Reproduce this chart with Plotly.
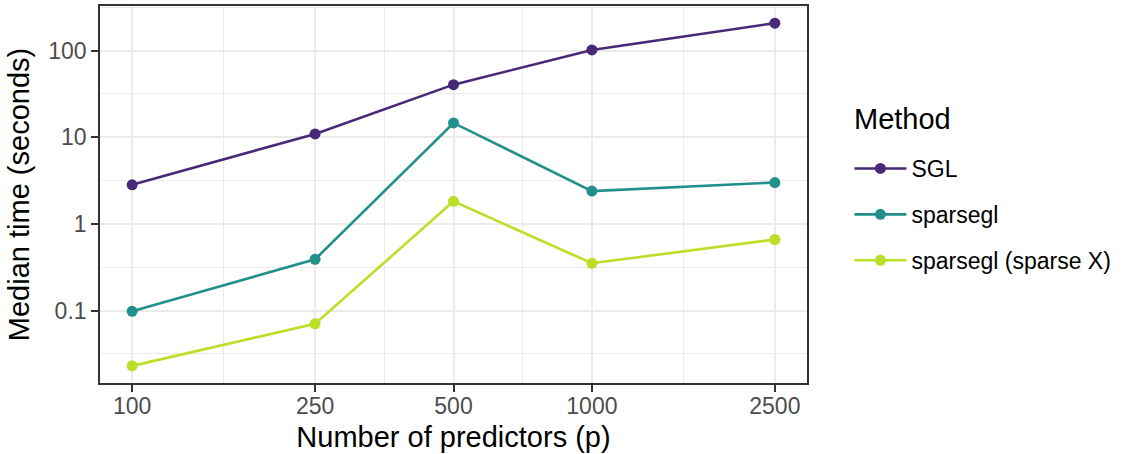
import numpy as np
import plotly.graph_objects as go

# ---- data ----
predictors = [100, 250, 500, 1000, 2500]
methods = ["SGL", "sparsegl", "sparsegl (sparse X)"]
sgl_time = [2.82, 10.9, 40.4, 101.6, 207.0]
sparsegl_time = [0.098, 0.39, 14.6, 2.39, 3.0]
sparsegl_sparsex_time = [0.023, 0.0703, 1.82, 0.351, 0.66]
y_breaks = [0.1, 1, 10, 100]
y_labels = ["0.1", "1", "10", "100"]
x_labels = ["100", "250", "500", "1000", "2500"]
legend_title = "Method"

colors = ["#482878", "#21908C", "#BBDF27"]
series = [sgl_time, sparsegl_time, sparsegl_sparsex_time]

FONT = "Liberation Sans, Arial, Helvetica, sans-serif"

fig = go.Figure()
for i, (name, vals) in enumerate(zip(methods, series)):
    fig.add_trace(go.Scatter(
        x=predictors, y=vals, name=name, mode="lines+markers",
        line=dict(color=colors[i], width=2.6),
        marker=dict(color=colors[i], size=11, line=dict(width=0)),
        legendgroup=name,
    ))

def expand(vals, frac=0.05):
    lo, hi = np.log10(min(vals)), np.log10(max(vals))
    d = (hi - lo) * frac
    return [lo - d, hi + d]

all_y = sgl_time + sparsegl_time + sparsegl_sparsex_time
xr = expand(predictors)
yr = expand(all_y)

def log_mids(b):
    return [10 ** ((np.log10(b[i]) + np.log10(b[i + 1])) / 2) for i in range(len(b) - 1)]

x_minor = log_mids(predictors)
y_minor = log_mids([0.01] + y_breaks + [1000])

axis_common = dict(
    showline=True, linecolor="#333333", linewidth=1.6, mirror=True,
    ticks="outside", ticklen=7, tickwidth=1.6, tickcolor="#333333",
    tickfont=dict(family=FONT, size=23, color="#4D4D4D"),
    showgrid=True, gridcolor="#EBEBEB", gridwidth=2,
    zeroline=False,
)

fig.update_xaxes(
    type="log", range=xr, tickmode="array", tickvals=predictors, ticktext=x_labels,
    ticklabelstandoff=-5,
    title=dict(text="Number of predictors (p)", font=dict(family=FONT, size=29, color="black"), standoff=8),
    minor=dict(tickmode="array", tickvals=x_minor, showgrid=True, gridcolor="#EBEBEB", gridwidth=1, ticks=""),
    **axis_common,
)
fig.update_yaxes(
    type="log", range=yr, tickmode="array", tickvals=y_breaks, ticktext=y_labels,
    title=dict(text="Median time (seconds)", font=dict(family=FONT, size=29, color="black"), standoff=10),
    minor=dict(tickmode="array", tickvals=y_minor, showgrid=True, gridcolor="#EBEBEB", gridwidth=1, ticks=""),
    **axis_common,
)

fig.add_annotation(
    text=legend_title, xref="paper", yref="paper", x=1.063, y=0.699,
    xanchor="left", yanchor="middle", showarrow=False,
    font=dict(family=FONT, size=29, color="black"),
)

fig.update_layout(
    width=1123, height=454,
    margin=dict(l=100, r=316, t=4, b=71),
    paper_bgcolor="white", plot_bgcolor="white",
    font=dict(family=FONT),
    legend=dict(
        font=dict(family=FONT, size=23, color="black"),
        x=1.060, xanchor="left", y=0.626, yanchor="top",
        tracegroupgap=13, itemwidth=52, bgcolor="rgba(0,0,0,0)",
    ),
    showlegend=True,
)

fig.write_html("out.html", config={"displayModeBar": False},
               post_script="document.body.style.margin='0';")
